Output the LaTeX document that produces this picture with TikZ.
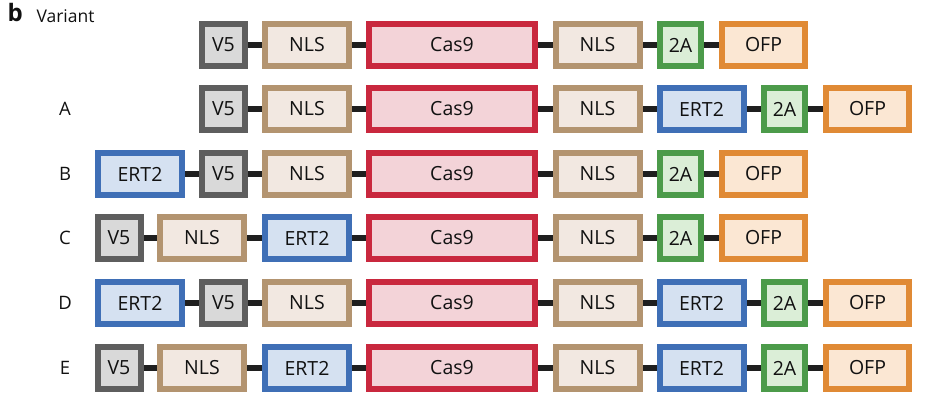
\documentclass[tikz,border=0pt]{standalone}
\usepackage{fontspec}
\setmainfont{Open Sans}
\usetikzlibrary{backgrounds}
\definecolor{vfd}{HTML}{5E5E5E}\definecolor{vfl}{HTML}{D9D9D9}
\definecolor{nld}{HTML}{B39470}\definecolor{nll}{HTML}{F2E8E1}
\definecolor{cad}{HTML}{C9283E}\definecolor{cal}{HTML}{F3D3D8}
\definecolor{erd}{HTML}{3F6FB6}\definecolor{erl}{HTML}{D5E1F1}
\definecolor{tad}{HTML}{4C9B4A}\definecolor{tal}{HTML}{DBEED7}
\definecolor{ofd}{HTML}{E08A35}\definecolor{ofl}{HTML}{FBE7D3}
\definecolor{txt}{HTML}{111111}
\tikzset{
  part/.style={draw, line width=6pt, minimum height=42pt, inner sep=0pt, text=txt,
    font=\fontsize{19.5}{22}\selectfont},
  vfive/.style={part, draw=vfd, fill=vfl, minimum width=43pt},
  nls/.style={part, draw=nld, fill=nll, minimum width=84pt},
  cas/.style={part, draw=cad, fill=cal, minimum width=166pt},
  ert/.style={part, draw=erd, fill=erl, minimum width=84pt},
  twoa/.style={part, draw=tad, fill=tal, minimum width=41pt},
  ofp/.style={part, draw=ofd, fill=ofl, minimum width=83pt},
  conn/.style={draw=black!88, line width=6pt},
  rowlab/.style={font=\fontsize{18.5}{22}\selectfont, text=txt},
}
\begin{document}
\begin{tikzpicture}[x=1pt,y=-1pt]
\useasboundingbox (0,0) rectangle (925,403);
\node[anchor=west, text=txt, font=\bfseries\fontsize{24}{26}\selectfont] (bl) at (4,13) {b};
\node[anchor=west, rowlab, font=\fontsize{17.5}{20}\selectfont] (var) at (33,16) {Variant};
% top row
\node[vfive] (t1) at (223.5,45) {V5};
\node[nls] (t2) at (307,45) {NLS};
\node[cas] (t3) at (452,45) {Cas9};
\node[nls] (t4) at (597.5,45) {NLS};
\node[twoa] (t5) at (680.5,45) {2A};
\node[ofp] (t6) at (763.5,45) {OFP};
% A
\node[rowlab] (la) at (65,109) {A};
\node[vfive] (a1) at (223.5,109) {V5};
\node[nls] (a2) at (307,109) {NLS};
\node[cas] (a3) at (452,109) {Cas9};
\node[nls] (a4) at (597.5,109) {NLS};
\node[ert] (a5) at (701.5,109) {ERT2};
\node[twoa] (a6) at (784.5,109) {2A};
\node[ofp] (a7) at (867.5,109) {OFP};
% B
\node[rowlab] (lb) at (65,174) {B};
\node[ert] (b1) at (140,174) {ERT2};
\node[vfive] (b2) at (223.5,174) {V5};
\node[nls] (b3) at (307,174) {NLS};
\node[cas] (b4) at (452,174) {Cas9};
\node[nls] (b5) at (597.5,174) {NLS};
\node[twoa] (b6) at (680.5,174) {2A};
\node[ofp] (b7) at (763.5,174) {OFP};
% C
\node[rowlab] (lc) at (65,238) {C};
\node[vfive] (c1) at (119,238) {V5};
\node[nls] (c2) at (202,238) {NLS};
\node[ert] (c3) at (307,238) {ERT2};
\node[cas] (c4) at (452,238) {Cas9};
\node[nls] (c5) at (597.5,238) {NLS};
\node[twoa] (c6) at (680.5,238) {2A};
\node[ofp] (c7) at (763.5,238) {OFP};
% D
\node[rowlab] (ld) at (65,303) {D};
\node[ert] (d1) at (140,303) {ERT2};
\node[vfive] (d2) at (223.5,303) {V5};
\node[nls] (d3) at (307,303) {NLS};
\node[cas] (d4) at (452,303) {Cas9};
\node[nls] (d5) at (597.5,303) {NLS};
\node[ert] (d6) at (701.5,303) {ERT2};
\node[twoa] (d7) at (784.5,303) {2A};
\node[ofp] (d8) at (867.5,303) {OFP};
% E
\node[rowlab] (le) at (65,368) {E};
\node[vfive] (e1) at (119,368) {V5};
\node[nls] (e2) at (202,368) {NLS};
\node[ert] (e3) at (307,368) {ERT2};
\node[cas] (e4) at (452,368) {Cas9};
\node[nls] (e5) at (597.5,368) {NLS};
\node[ert] (e6) at (701.5,368) {ERT2};
\node[twoa] (e7) at (784.5,368) {2A};
\node[ofp] (e8) at (867.5,368) {OFP};
\begin{pgfonlayer}{background}
\foreach \r/\n in {t/6,a/7,b/7,c/7,d/8,e/8}{
  \foreach \i [evaluate=\i as \j using int(\i+1)] in {1,...,7}{
    \ifnum\i<\n
      \draw[conn] (\r\i.center) -- (\r\j.center);
    \fi
  }
}
\end{pgfonlayer}
\end{tikzpicture}
\end{document}
